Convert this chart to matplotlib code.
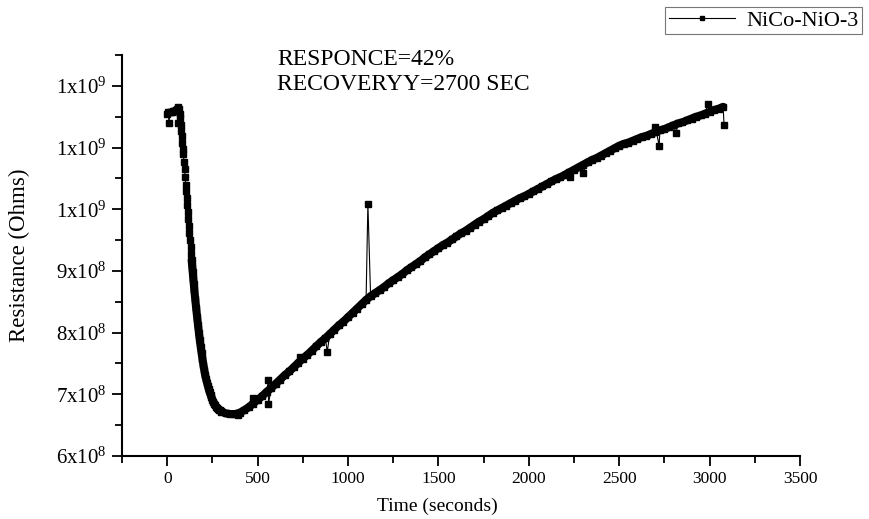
import numpy as np
import matplotlib
matplotlib.use("Agg")
import matplotlib.pyplot as plt
from matplotlib.ticker import FuncFormatter, MultipleLocator

plt.rcParams["font.family"] = ["Liberation Serif", "DejaVu Serif"]
plt.rcParams["mathtext.fontset"] = "stix"

# resistance values are in units of 1e8 ohms
plateau_t = [0, 5, 10, 15, 20, 25, 30, 35, 40, 45, 50, 55, 60, 62, 65, 70]
plateau_r = [11.55, 11.57, 11.40, 11.57, 11.58, 11.58, 11.59, 11.59, 11.60,
             11.60, 11.61, 11.63, 11.66, 11.40, 11.62, 11.55]

drop_t = list(range(72, 151, 3)) + list(range(155, 301, 5))
drop_r = [11.48, 11.37, 11.27, 11.18, 11.08, 10.98, 10.89, 10.77, 10.65,
          10.52, 10.40, 10.29, 10.18, 10.07, 9.95, 9.84, 9.73, 9.62, 9.50,
          9.38, 9.28, 9.18, 9.08, 8.99, 8.89, 8.79, 8.69,
          8.54, 8.40, 8.26, 8.13, 8.00, 7.88, 7.77, 7.67, 7.57, 7.48, 7.39,
          7.31, 7.25, 7.19, 7.14, 7.08, 7.03, 6.99, 6.95, 6.91, 6.88, 6.85,
          6.82, 6.80, 6.78, 6.76, 6.75, 6.74, 6.73, 6.72]

recovery_t = list(range(325, 3076, 25))
recovery_r = [6.69, 6.68, 6.68, 6.70, 6.74, 6.79, 6.85, 6.91, 6.97, 7.04,
              7.10, 7.17, 7.24, 7.31, 7.37, 7.44, 7.51, 7.58, 7.64, 7.71,
              7.78, 7.85, 7.91, 7.98, 8.05, 8.12, 8.18, 8.25, 8.32, 8.39,
              8.46, 8.53, 8.59, 8.64, 8.69, 8.74, 8.80, 8.85, 8.90, 8.95,
              9.01, 9.06, 9.11, 9.16, 9.22, 9.27, 9.32, 9.37, 9.42, 9.46,
              9.51, 9.56, 9.61, 9.65, 9.70, 9.75, 9.80, 9.84, 9.89, 9.94,
              9.98, 10.02, 10.06, 10.10, 10.14, 10.18, 10.21, 10.25, 10.29, 10.33,
              10.37, 10.41, 10.45, 10.49, 10.52, 10.56, 10.60, 10.64, 10.68, 10.72,
              10.76, 10.80, 10.83, 10.87, 10.91, 10.95, 10.99, 11.03, 11.06, 11.08,
              11.11, 11.14, 11.17, 11.19, 11.22, 11.25, 11.28, 11.30, 11.33, 11.36,
              11.39, 11.41, 11.44, 11.47, 11.50, 11.52, 11.55, 11.58, 11.61, 11.63,
              11.66]

# stray readings during recovery
stray_t = [390, 476, 560, 560, 736, 885, 1110, 2230, 2300, 2700, 2721, 2815, 2990, 3080]
stray_r = [6.67, 6.94, 7.23, 6.84, 7.61, 7.69, 10.09, 10.53, 10.59, 11.34, 11.03,
           11.23, 11.70, 11.36]

t = np.array(plateau_t + drop_t + recovery_t + stray_t, dtype=float)
r = np.array(plateau_r + drop_r + recovery_r + stray_r) * 1e8
order = np.argsort(t, kind="stable")
t, r = t[order], r[order]

# the densely sampled part of the trace merges into a solid band
band_t = np.array(drop_t + recovery_t, dtype=float)
band_r = np.array(drop_r + recovery_r) * 1e8
dense = band_t >= 135


def sci_label(v, pos):
    exp = int(np.floor(np.log10(v)))
    mant = int(round(v / 10 ** exp))
    return r"$\mathregular{%dx10^{%d}}$" % (mant, exp)


fig = plt.figure(figsize=(8.69, 5.19), dpi=100)
ax = fig.add_axes([122 / 869, 1 - 456 / 519, (800 - 122) / 869, (456 - 55) / 519])

ax.plot(band_t[dense], band_r[dense], color="black", lw=5.8,
        solid_capstyle="round", solid_joinstyle="round")
ax.plot(t, r, color="black", lw=0.8, marker="s", ms=4.6, mec="black",
        mfc="black", label="NiCo-NiO-3")

ax.set_xlim(-250, 3500)
ax.set_ylim(6e8, 1.25e9)
ax.xaxis.set_major_locator(MultipleLocator(500))
ax.xaxis.set_minor_locator(MultipleLocator(250))
ax.yaxis.set_major_locator(MultipleLocator(1e8))
ax.yaxis.set_minor_locator(MultipleLocator(5e7))
ax.yaxis.set_major_formatter(FuncFormatter(sci_label))
ax.tick_params(which="major", direction="out", length=7, width=1.3, pad=4)
ax.tick_params(which="minor", direction="out", length=5, width=1.3)
ax.tick_params(axis="x", labelsize=12.5)
ax.tick_params(axis="y", labelsize=15)

for side in ("top", "right"):
    ax.spines[side].set_visible(False)
for side in ("left", "bottom"):
    ax.spines[side].set_linewidth(1.5)

ax.set_xlabel("Time (seconds)", fontsize=14)
ax.xaxis.set_label_coords(0.465, -0.105)
ax.set_ylabel("Resistance (Ohms)", fontsize=16.5)
ax.yaxis.set_label_coords(-0.136, 0.5)

ax.text(277 / 869, 1 - 60 / 519, "RESPONCE=42%", transform=fig.transFigure,
        fontsize=17, va="center", ha="left")
ax.text(277 / 869, 1 - 84 / 519, "RECOVERYY=2700 SEC", transform=fig.transFigure,
        fontsize=17, va="center", ha="left")

leg = fig.legend(loc="upper right", bbox_to_anchor=(862 / 869, 1 - 7 / 519),
                 fontsize=16, frameon=True, fancybox=False, markerscale=0.7,
                 handlelength=3.0, borderpad=0.15, handletextpad=0.5,
                 borderaxespad=0)
leg.get_frame().set_edgecolor("#555555")
leg.get_frame().set_linewidth(0.8)

fig.savefig("out.png", dpi=100)
